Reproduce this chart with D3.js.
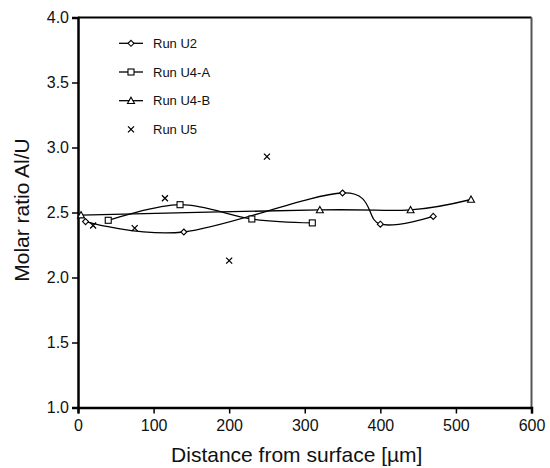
<!DOCTYPE html>
<html>
<head>
<meta charset="utf-8">
<script src="https://cdn.jsdelivr.net/npm/d3@7"></script>
<style>
  body { margin: 0; background: #fff; }
  text { font-family: "Liberation Sans", Arial, sans-serif; fill: #111; }
</style>
</head>
<body>
<svg id="chart" width="550" height="468"></svg>
<script>
// data
const u2X = [10, 140, 350, 400, 470];
const u2Y = [2.43, 2.35, 2.65, 2.41, 2.47];
const u4aX = [40, 135, 230, 310];
const u4aY = [2.44, 2.56, 2.45, 2.42];
const u4bX = [4, 320, 440, 520];
const u4bY = [2.48, 2.52, 2.52, 2.60];
const u5X = [20, 75, 115, 200, 250];
const u5Y = [2.40, 2.38, 2.61, 2.13, 2.93];

const xTicks = [0, 100, 200, 300, 400, 500, 600];
const yTicks = [1.0, 1.5, 2.0, 2.5, 3.0, 3.5, 4.0];
const legendNames = ["Run U2", "Run U4-A", "Run U4-B", "Run U5"];

const margin = { top: 17.5, right: 18.5, bottom: 60.5, left: 78 };
const width = 550 - margin.left - margin.right,
      height = 468 - margin.top - margin.bottom;

const svg = d3.select("#chart");
const g = svg.append("g").attr("transform", `translate(${margin.left},${margin.top})`);

const x = d3.scaleLinear().domain([0, 600]).range([0, width]);
const y = d3.scaleLinear().domain([1, 4]).range([height, 0]);

// frame: top and right
g.append("line").attr("x1", 0).attr("x2", width).attr("y1", 0).attr("y2", 0)
  .attr("stroke", "#000").attr("stroke-width", 2);
g.append("line").attr("x1", width).attr("x2", width).attr("y1", 0).attr("y2", height)
  .attr("stroke", "#555").attr("stroke-width", 2);

// axes
const xAxis = g.append("g").attr("transform", `translate(0,${height})`)
  .call(d3.axisBottom(x).tickValues(xTicks).tickSize(6).tickPadding(4).tickFormat(d3.format("d")));
const yAxis = g.append("g")
  .call(d3.axisLeft(y).tickValues(yTicks).tickSize(6).tickPadding(3).tickFormat(d3.format(".1f")));

[xAxis, yAxis].forEach(a => {
  a.select(".domain").attr("stroke", "#000").attr("stroke-width", 2.5);
  a.selectAll(".tick line").attr("stroke", "#000").attr("stroke-width", 1.5);
  a.selectAll(".tick text").style("font-size", "16px").style("font-family", "Liberation Sans, Arial, sans-serif").attr("fill", "#111");
});
xAxis.selectAll(".tick text").attr("dy", "0.85em");

// axis titles
svg.append("text")
  .attr("x", margin.left + width / 2 - 8)
  .attr("y", 462)
  .attr("text-anchor", "middle")
  .style("font-size", "21px")
  .text("Distance from surface [µm]");

svg.append("text")
  .attr("transform", `translate(29,210) rotate(-90)`)
  .attr("text-anchor", "middle")
  .style("font-size", "21px")
  .text("Molar ratio Al/U");

const line = d3.line()
  .x(d => x(d[0]))
  .y(d => y(d[1]))
  .curve(d3.curveCardinal.tension(0));

const series = [
  { xs: u2X, ys: u2Y, marker: "diamond", lineOn: true },
  { xs: u4aX, ys: u4aY, marker: "square", lineOn: true },
  { xs: u4bX, ys: u4bY, marker: "triangle", lineOn: true },
  { xs: u5X, ys: u5Y, marker: "cross", lineOn: false }
];

function drawMarker(sel, type, cx, cy) {
  if (type === "diamond") {
    sel.append("path")
      .attr("d", `M${cx},${cy - 3}L${cx + 3},${cy}L${cx},${cy + 3}L${cx - 3},${cy}Z`)
      .attr("fill", "#fff").attr("stroke", "#000").attr("stroke-width", 1.1);
  } else if (type === "square") {
    sel.append("rect")
      .attr("x", cx - 3).attr("y", cy - 3).attr("width", 6).attr("height", 6)
      .attr("fill", "#fff").attr("stroke", "#000").attr("stroke-width", 1.1);
  } else if (type === "triangle") {
    sel.append("path")
      .attr("d", `M${cx},${cy - 3.5}L${cx + 3.5},${cy + 2.8}L${cx - 3.5},${cy + 2.8}Z`)
      .attr("fill", "#fff").attr("stroke", "#000").attr("stroke-width", 1.1);
  } else {
    sel.append("path")
      .attr("d", `M${cx - 3},${cy - 3}L${cx + 3},${cy + 3}M${cx + 3},${cy - 3}L${cx - 3},${cy + 3}`)
      .attr("stroke", "#000").attr("stroke-width", 1.3);
  }
}

series.forEach(s => {
  const pts = s.xs.map((v, i) => [v, s.ys[i]]);
  if (s.lineOn) {
    g.append("path").datum(pts)
      .attr("d", line)
      .attr("fill", "none").attr("stroke", "#000").attr("stroke-width", 1.3);
  }
  const mg = g.append("g");
  pts.forEach(p => drawMarker(mg, s.marker, x(p[0]), y(p[1])));
});

// legend
const legend = svg.append("g");
legendNames.forEach((name, i) => {
  const ly = 43.3 + i * 28.7;
  if (series[i].lineOn) {
    legend.append("line").attr("x1", 119).attr("x2", 143).attr("y1", ly).attr("y2", ly)
      .attr("stroke", "#000").attr("stroke-width", 1.3);
  }
  drawMarker(legend, series[i].marker, 131, ly);
  legend.append("text")
    .attr("x", 153).attr("y", ly)
    .attr("dy", "0.35em")
    .style("font-size", "13px")
    .text(name);
});
</script>
</body>
</html>
